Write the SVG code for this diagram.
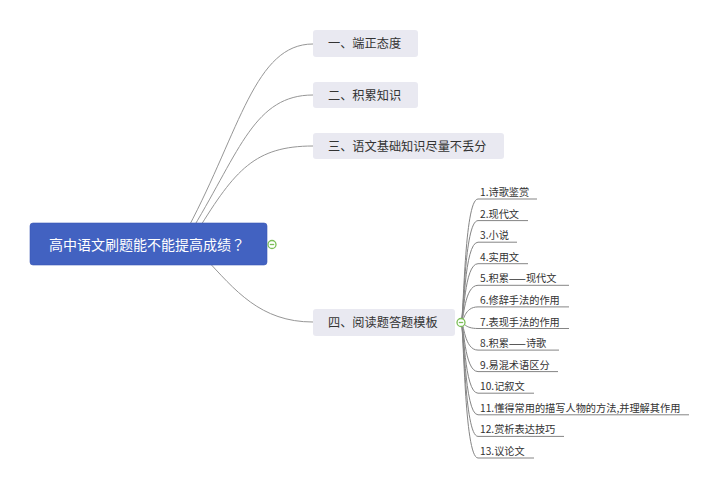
<svg xmlns="http://www.w3.org/2000/svg" width="720" height="489" viewBox="0 0 720 489">
<style>
.bg{fill:#ffffff}
.conn path{fill:none;stroke:#969696;stroke-width:1}
.sub path{fill:none;stroke:#858585;stroke-width:1}
.root rect{fill:#4262c1;stroke:#3a58b5;stroke-width:0.6}
.root text{fill:#ffffff;font-family:"Noto Sans CJK SC","Liberation Sans",sans-serif;font-size:14px}
.root tspan.q{font-family:"Noto Sans CJK JP","Noto Sans CJK SC",sans-serif}
.br rect{fill:#e9e9f1}
.br text{fill:#333333;font-family:"Noto Sans CJK SC","Liberation Sans",sans-serif;font-size:12.2px}
.lf text{fill:#333333;font-family:"Noto Sans CJK SC","Liberation Sans",sans-serif;font-size:10.2px}
.tog circle{fill:#ffffff;stroke:#7cbf58;stroke-width:1.3}
.tog line{stroke:#7cbf58;stroke-width:1.3}
</style>
<rect class="bg" x="0" y="0" width="720" height="489"/>
<g id="connectors">
 <g class="conn">
  <path d="M188 228 C240 130 255 44 313 44"/>
  <path d="M193 228 C240 150 255 95 313 95"/>
  <path d="M198 230 C235 170 255 146 313 146"/>
  <path d="M205 258 C235 290 260 322 313 322"/>
 </g>
 <g class="sub">
  <path d="M461 322 C464 322 464 199 478 199 L537 199"/>
  <path d="M461 322 C464 322 464 220.6 478 220.6 L528 220.6"/>
  <path d="M461 322 C464 322 464 242.2 478 242.2 L517 242.2"/>
  <path d="M461 322 C464 322 464 263.7 478 263.7 L528 263.7"/>
  <path d="M461 322 C464 322 464 285.3 478 285.3 L569 285.3"/>
  <path d="M461 322 C464 322 464 306.9 478 306.9 L569 306.9"/>
  <path d="M461 322 C464 322 464 328.5 478 328.5 L569 328.5"/>
  <path d="M461 322 C464 322 464 350.1 478 350.1 L559 350.1"/>
  <path d="M461 322 C464 322 464 371.6 478 371.6 L558 371.6"/>
  <path d="M461 322 C464 322 464 393.2 478 393.2 L534 393.2"/>
  <path d="M461 322 C464 322 464 414.8 478 414.8 L689 414.8"/>
  <path d="M461 322 C464 322 464 436.4 478 436.4 L564 436.4"/>
  <path d="M461 322 C464 322 464 458 478 458 L534 458"/>
 </g>
</g>
<g id="root" class="root">
 <rect x="30" y="223" width="237" height="42" rx="3"/>
 <text x="147" y="249.5" text-anchor="middle">高中语文刷题能不能提高成绩<tspan class="q">？</tspan></text>
</g>
<g id="toggle-root" class="tog">
 <circle cx="272" cy="244.5" r="4"/>
 <line x1="269.8" y1="244.5" x2="274.2" y2="244.5"/>
</g>
<g id="n1" class="br">
 <rect x="313" y="30" width="105" height="27" rx="3"/>
 <text x="328" y="48">一、端正态度</text>
</g>
<g id="n2" class="br">
 <rect x="313" y="82" width="105" height="26" rx="3"/>
 <text x="328" y="99.5">二、积累知识</text>
</g>
<g id="n3" class="br">
 <rect x="313" y="133" width="191" height="26" rx="3"/>
 <text x="328" y="150.5">三、语文基础知识尽量不丢分</text>
</g>
<g id="n4" class="br">
 <rect x="313" y="309" width="142" height="27" rx="3"/>
 <text x="328" y="327">四、阅读题答题模板</text>
</g>
<g id="toggle-n4" class="tog">
 <circle cx="461" cy="322.5" r="4"/>
 <line x1="458.8" y1="322.5" x2="463.2" y2="322.5"/>
</g>
<g id="leaf1" class="lf"><text x="480" y="196">1.诗歌鉴赏</text></g>
<g id="leaf2" class="lf"><text x="480" y="217.6">2.现代文</text></g>
<g id="leaf3" class="lf"><text x="480" y="239.2">3.小说</text></g>
<g id="leaf4" class="lf"><text x="480" y="260.7">4.实用文</text></g>
<g id="leaf5" class="lf"><text x="480" y="282.3">5.积累——现代文</text></g>
<g id="leaf6" class="lf"><text x="480" y="303.9">6.修辞手法的作用</text></g>
<g id="leaf7" class="lf"><text x="480" y="325.5">7.表现手法的作用</text></g>
<g id="leaf8" class="lf"><text x="480" y="347.1">8.积累——诗歌</text></g>
<g id="leaf9" class="lf"><text x="480" y="368.6">9.易混术语区分</text></g>
<g id="leaf10" class="lf"><text x="480" y="390.2">10.记叙文</text></g>
<g id="leaf11" class="lf"><text x="480" y="411.8">11.懂得常用的描写人物的方法,并理解其作用</text></g>
<g id="leaf12" class="lf"><text x="480" y="433.4">12.赏析表达技巧</text></g>
<g id="leaf13" class="lf"><text x="480" y="455">13.议论文</text></g>
</svg>
